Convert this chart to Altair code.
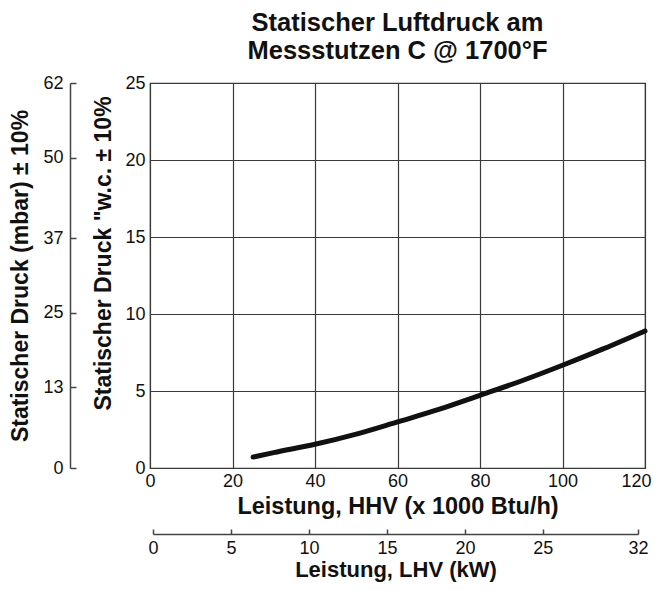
import altair as alt
import pandas as pd

# ---- data ----
hhv = [25, 30, 40, 50, 60, 70, 80, 90, 100, 110, 120]
wc = [0.71, 1.0, 1.54, 2.2, 2.99, 3.8, 4.72, 5.65, 6.67, 7.75, 8.9]

x_ticks = [0, 20, 40, 60, 80, 100, 120]
y_ticks = [0, 5, 10, 15, 20, 25]
mbar_ticks = [0, 13, 25, 37, 50, 62]
kw_tick_pos = [0, 5, 10, 15, 20, 25, 31.1]
kw_tick_labels = ["0", "5", "10", "15", "20", "25", "32"]

FONT = "Liberation Sans"
INK = "#111111"
GRID = "#3a3a3a"
W, H = 495, 385
LABEL_FS = 18
TITLE_FS = 23

df = pd.DataFrame({"hhv": hhv, "wc": wc})
kw_df = pd.DataFrame({"kw": [kw_tick_pos[0], kw_tick_pos[-1]]})
mbar_df = pd.DataFrame({"mbar": [mbar_ticks[0], mbar_ticks[-1]]})

label_map = "{" + ",".join(f"'{p}':'{l}'" for p, l in zip(kw_tick_pos, kw_tick_labels)) + "}"
kw_label_expr = f"{label_map}[toString(datum.value)] || datum.label"

main = alt.Chart(df).mark_line(
    color=INK, strokeWidth=5, strokeCap="round", interpolate="monotone"
).encode(
    x=alt.X(
        "hhv:Q",
        scale=alt.Scale(domain=[0, 120], nice=False, zero=False),
        axis=alt.Axis(
            values=x_ticks, title="Leistung, HHV (x 1000 Btu/h)", grid=True,
            ticks=False, domain=False, labelPadding=4, titlePadding=4,
            labelFlush=False,
            labelFontSize=LABEL_FS, titleFontSize=23.5,
            labelOffset={"condition": {"test": "datum.value === 120", "value": -9}, "value": 0},
        ),
    ),
    y=alt.Y(
        "wc:Q",
        scale=alt.Scale(domain=[0, 25], nice=False, zero=False),
        axis=alt.Axis(
            values=y_ticks, title='Statischer Druck "w.c. ± 10%', grid=True,
            ticks=False, domain=False, labelPadding=5, titlePadding=9,
            titleY=170,
            labelFontSize=LABEL_FS, titleFontSize=TITLE_FS,
        ),
    ),
)

kw_ticks_layer = alt.Chart(kw_df).mark_point(opacity=0).encode(
    x=alt.X(
        "kw:Q",
        scale=alt.Scale(domain=[0, 31.1], range=[3, 488], nice=False, zero=False),
        axis=alt.Axis(
            orient="top", offset=-451, values=kw_tick_pos, labels=False,
            title=None, ticks=True, tickSize=5, domain=True, grid=False,
        ),
    )
)

kw_labels_layer = alt.Chart(kw_df).mark_point(opacity=0).encode(
    x=alt.X(
        "kw:Q",
        scale=alt.Scale(domain=[0, 31.1], range=[3, 488], nice=False, zero=False),
        axis=alt.Axis(
            orient="bottom", offset=67, values=kw_tick_pos, labelExpr=kw_label_expr,
            title="Leistung, LHV (kW)", ticks=False, domain=False, grid=False,
            labelFlush=False, labelPadding=4, titlePadding=2,
            labelFontSize=LABEL_FS, titleFontSize=22,
        ),
    )
)

mbar_ticks_layer = alt.Chart(mbar_df).mark_point(opacity=0).encode(
    y=alt.Y(
        "mbar:Q",
        scale=alt.Scale(domain=[0, 62], nice=False, zero=False),
        axis=alt.Axis(
            orient="right", offset=-(W + 80), values=mbar_ticks, labels=False,
            title=None, ticks=True, tickSize=6, domain=True, grid=False,
        ),
    )
)

mbar_labels_layer = alt.Chart(mbar_df).mark_point(opacity=0).encode(
    y=alt.Y(
        "mbar:Q",
        scale=alt.Scale(domain=[0, 62], nice=False, zero=False),
        axis=alt.Axis(
            orient="left", offset=80, values=mbar_ticks,
            title="Statischer Druck (mbar) ± 10%", ticks=False, domain=False,
            grid=False, labelPadding=7, titlePadding=10,
            labelFontSize=LABEL_FS, titleFontSize=TITLE_FS,
        ),
    )
)

chart = alt.layer(
    main, kw_ticks_layer, kw_labels_layer, mbar_ticks_layer, mbar_labels_layer
).resolve_scale(
    x="independent", y="independent"
).properties(
    width=W,
    height=H,
    title=alt.TitleParams(
        ["Statischer Luftdruck am", "Messstutzen C @ 1700°F"],
        anchor="middle", font=FONT, fontSize=25.5, fontWeight="bold",
        color=INK, lineHeight=28, offset=10,
    ),
    autosize=alt.AutoSizeParams(type="none"),
    padding={"left": 142, "top": 75, "right": 7, "bottom": 114},
).configure_view(
    stroke=GRID, strokeWidth=1.2,
).configure_axis(
    labelFont=FONT, titleFont=FONT, labelColor=INK, titleColor=INK,
    titleFontWeight="bold", gridColor=GRID, gridWidth=1.2, gridOpacity=1,
    domainColor="#444444", tickColor="#444444", domainWidth=1.5, tickWidth=1.5,
)

chart.save("out.html", embed_options={"renderer": "svg", "actions": False})
